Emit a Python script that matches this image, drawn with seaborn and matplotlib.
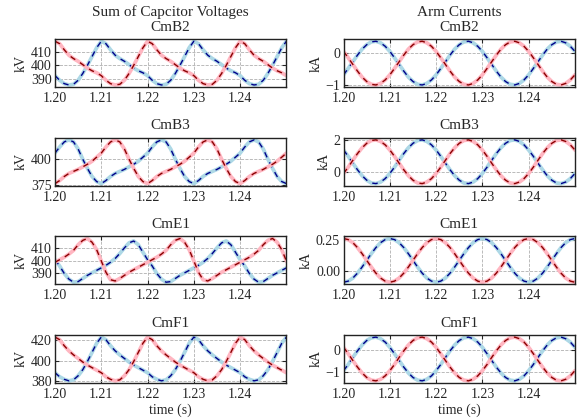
import numpy as np
import matplotlib
matplotlib.use("Agg")
import matplotlib.pyplot as plt
import seaborn as sns

# time axis (s), 1 ms sampling
t = np.round(np.linspace(1.20, 1.25, 51), 3)

# ---- Sum of capacitor voltages (kV) ----
vB2_blue = [392.4, 389.0, 386.5, 385.5, 386.0, 389.0, 394.0, 400.0, 406.5, 413.0,
            417.8, 416.0, 411.5, 407.5, 405.0, 403.0, 400.5, 398.0, 396.0, 394.5,
            392.4, 389.0, 386.5, 385.5, 386.0, 389.0, 394.0, 400.0, 406.5, 413.0,
            417.8, 416.0, 411.5, 407.5, 405.0, 403.0, 400.5, 398.0, 396.0, 394.5,
            392.4, 389.0, 386.5, 385.5, 386.0, 389.0, 394.0, 400.0, 406.5, 413.0,
            417.8]
vB2_red = [417.8, 416.0, 411.5, 407.5, 405.0, 403.0, 400.5, 398.0, 396.0, 394.5,
           392.4, 389.0, 386.5, 385.5, 386.0, 389.0, 394.0, 400.0, 406.5, 413.0,
           417.8, 416.0, 411.5, 407.5, 405.0, 403.0, 400.5, 398.0, 396.0, 394.5,
           392.4, 389.0, 386.5, 385.5, 386.0, 389.0, 394.0, 400.0, 406.5, 413.0,
           417.8, 416.0, 411.5, 407.5, 405.0, 403.0, 400.5, 398.0, 396.0, 394.5,
           392.4]

vB3_blue = [406.0, 412.0, 417.0, 419.0, 417.0, 410.0, 400.0, 391.0, 383.0, 378.0,
            376.0, 379.0, 383.0, 386.0, 388.0, 390.0, 392.5, 395.0, 398.0, 402.0,
            406.0, 412.0, 417.0, 419.0, 417.0, 410.0, 400.0, 391.0, 383.0, 378.0,
            376.0, 379.0, 383.0, 386.0, 388.0, 390.0, 392.5, 395.0, 398.0, 402.0,
            406.0, 412.0, 417.0, 419.0, 417.0, 410.0, 400.0, 391.0, 383.0, 378.0,
            376.0]
vB3_red = [376.0, 379.0, 383.0, 386.0, 388.0, 390.0, 392.5, 395.0, 398.0, 402.0,
           406.0, 412.0, 417.0, 419.0, 417.0, 410.0, 400.0, 391.0, 383.0, 378.0,
           376.0, 379.0, 383.0, 386.0, 388.0, 390.0, 392.5, 395.0, 398.0, 402.0,
           406.0, 412.0, 417.0, 419.0, 417.0, 410.0, 400.0, 391.0, 383.0, 378.0,
           376.0, 379.0, 383.0, 386.0, 388.0, 390.0, 392.5, 395.0, 398.0, 402.0,
           406.0]

vE1_blue = [401.0, 396.0, 390.0, 385.5, 383.0, 383.5, 386.0, 388.5, 390.5, 392.5,
            394.5, 396.5, 399.0, 402.0, 406.0, 410.5, 414.5, 416.0, 413.0, 407.0,
            401.0, 396.0, 390.0, 385.5, 383.0, 383.5, 386.0, 388.5, 390.5, 392.5,
            394.5, 396.5, 399.0, 402.0, 406.0, 410.5, 414.5, 416.0, 413.0, 407.0,
            401.0, 396.0, 390.0, 385.5, 383.0, 383.5, 386.0, 388.5, 390.5, 392.5,
            394.5]
vE1_red = [399.0, 401.0, 403.0, 405.5, 408.5, 413.0, 416.5, 418.0, 415.0, 409.0,
           400.0, 391.0, 385.0, 384.0, 386.0, 388.5, 391.0, 393.0, 395.0, 397.0,
           399.0, 401.0, 403.0, 405.5, 408.5, 413.0, 416.5, 418.0, 415.0, 409.0,
           400.0, 391.0, 385.0, 384.0, 386.0, 388.5, 391.0, 393.0, 395.0, 397.0,
           399.0, 401.0, 403.0, 405.5, 408.5, 413.0, 416.5, 418.0, 415.0, 409.0,
           400.0]

vF1_blue = [388.0, 384.0, 381.5, 380.0, 381.0, 385.0, 391.0, 399.0, 408.0, 417.0,
            423.0, 420.5, 414.5, 409.5, 405.5, 402.0, 398.5, 395.5, 393.0, 390.5,
            388.0, 384.0, 381.5, 380.0, 381.0, 385.0, 391.0, 399.0, 408.0, 417.0,
            423.0, 420.5, 414.5, 409.5, 405.5, 402.0, 398.5, 395.5, 393.0, 390.5,
            388.0, 384.0, 381.5, 380.0, 381.0, 385.0, 391.0, 399.0, 408.0, 417.0,
            423.0]
vF1_red = [423.0, 420.5, 414.5, 409.5, 405.5, 402.0, 398.5, 395.5, 393.0, 390.5,
           388.0, 384.0, 381.5, 380.0, 381.0, 385.0, 391.0, 399.0, 408.0, 417.0,
           423.0, 420.5, 414.5, 409.5, 405.5, 402.0, 398.5, 395.5, 393.0, 390.5,
           388.0, 384.0, 381.5, 380.0, 381.0, 385.0, 391.0, 399.0, 408.0, 417.0,
           423.0, 420.5, 414.5, 409.5, 405.5, 402.0, 398.5, 395.5, 393.0, 390.5,
           388.0]

# ---- Arm currents (kA) ----
iB2_blue = [-0.68, -0.48, -0.27, -0.06, 0.13, 0.27, 0.36, 0.38, 0.33, 0.22,
            0.06, -0.14, -0.35, -0.56, -0.75, -0.89, -0.98, -1.00, -0.95, -0.84,
            -0.68, -0.48, -0.27, -0.06, 0.13, 0.27, 0.36, 0.38, 0.33, 0.22,
            0.06, -0.14, -0.35, -0.56, -0.75, -0.89, -0.98, -1.00, -0.95, -0.84,
            -0.68, -0.48, -0.27, -0.06, 0.13, 0.27, 0.36, 0.38, 0.33, 0.22,
            0.06]
iB2_red = [0.06, -0.14, -0.35, -0.56, -0.75, -0.89, -0.98, -1.00, -0.95, -0.84,
           -0.68, -0.48, -0.27, -0.06, 0.13, 0.27, 0.36, 0.38, 0.33, 0.22,
           0.06, -0.14, -0.35, -0.56, -0.75, -0.89, -0.98, -1.00, -0.95, -0.84,
           -0.68, -0.48, -0.27, -0.06, 0.13, 0.27, 0.36, 0.38, 0.33, 0.22,
           0.06, -0.14, -0.35, -0.56, -0.75, -0.89, -0.98, -1.00, -0.95, -0.84,
           -0.68]

iB3_red = [-0.11, 0.29, 0.73, 1.16, 1.53, 1.82, 2.00, 2.04, 1.94, 1.72,
           1.39, 0.99, 0.55, 0.13, -0.25, -0.54, -0.72, -0.76, -0.66, -0.44,
           -0.11, 0.29, 0.73, 1.16, 1.53, 1.82, 2.00, 2.04, 1.94, 1.72,
           1.39, 0.99, 0.55, 0.13, -0.25, -0.54, -0.72, -0.76, -0.66, -0.44,
           -0.11, 0.29, 0.73, 1.16, 1.53, 1.82, 2.00, 2.04, 1.94, 1.72,
           1.39]
iB3_blue = [1.39, 0.99, 0.55, 0.13, -0.25, -0.54, -0.72, -0.76, -0.66, -0.44,
            -0.11, 0.29, 0.73, 1.16, 1.53, 1.82, 2.00, 2.04, 1.94, 1.72,
            1.39, 0.99, 0.55, 0.13, -0.25, -0.54, -0.72, -0.76, -0.66, -0.44,
            -0.11, 0.29, 0.73, 1.16, 1.53, 1.82, 2.00, 2.04, 1.94, 1.72,
            1.39, 0.99, 0.55, 0.13, -0.25, -0.54, -0.72, -0.76, -0.66, -0.44,
            -0.11]

iE1_red = [0.263, 0.254, 0.229, 0.189, 0.139, 0.084, 0.029, -0.021, -0.061, -0.086,
           -0.095, -0.086, -0.061, -0.021, 0.029, 0.084, 0.139, 0.189, 0.229, 0.254,
           0.263, 0.254, 0.229, 0.189, 0.139, 0.084, 0.029, -0.021, -0.061, -0.086,
           -0.095, -0.086, -0.061, -0.021, 0.029, 0.084, 0.139, 0.189, 0.229, 0.254,
           0.263, 0.254, 0.229, 0.189, 0.139, 0.084, 0.029, -0.021, -0.061, -0.086,
           -0.095]
iE1_blue = [-0.095, -0.086, -0.061, -0.021, 0.029, 0.084, 0.139, 0.189, 0.229, 0.254,
            0.263, 0.254, 0.229, 0.189, 0.139, 0.084, 0.029, -0.021, -0.061, -0.086,
            -0.095, -0.086, -0.061, -0.021, 0.029, 0.084, 0.139, 0.189, 0.229, 0.254,
            0.263, 0.254, 0.229, 0.189, 0.139, 0.084, 0.029, -0.021, -0.061, -0.086,
            -0.095, -0.086, -0.061, -0.021, 0.029, 0.084, 0.139, 0.189, 0.229, 0.254,
            0.263]

iF1_blue = [-0.92, -0.65, -0.34, -0.05, 0.21, 0.41, 0.53, 0.56, 0.49, 0.34,
            0.11, -0.17, -0.47, -0.76, -1.02, -1.22, -1.34, -1.37, -1.30, -1.15,
            -0.92, -0.65, -0.34, -0.05, 0.21, 0.41, 0.53, 0.56, 0.49, 0.34,
            0.11, -0.17, -0.47, -0.76, -1.02, -1.22, -1.34, -1.37, -1.30, -1.15,
            -0.92, -0.65, -0.34, -0.05, 0.21, 0.41, 0.53, 0.56, 0.49, 0.34,
            0.11]
iF1_red = [0.11, -0.17, -0.47, -0.76, -1.02, -1.22, -1.34, -1.37, -1.30, -1.15,
           -0.92, -0.65, -0.34, -0.05, 0.21, 0.41, 0.53, 0.56, 0.49, 0.34,
           0.11, -0.17, -0.47, -0.76, -1.02, -1.22, -1.34, -1.37, -1.30, -1.15,
           -0.92, -0.65, -0.34, -0.05, 0.21, 0.41, 0.53, 0.56, 0.49, 0.34,
           0.11, -0.17, -0.47, -0.76, -1.02, -1.22, -1.34, -1.37, -1.30, -1.15,
           -0.92]

names = ["CmB2", "CmB3", "CmE1", "CmF1"]
volt_blue = [vB2_blue, vB3_blue, vE1_blue, vF1_blue]
volt_red = [vB2_red, vB3_red, vE1_red, vF1_red]
curr_blue = [iB2_blue, iB3_blue, iE1_blue, iF1_blue]
curr_red = [iB2_red, iB3_red, iE1_red, iF1_red]
volt_ticks = [[390, 400, 410], [375, 400], [390, 400, 410], [380, 400, 420]]
curr_ticks = [[-1, 0], [0, 2], [0.0, 0.25], [-1, 0]]
x_ticks = [1.20, 1.21, 1.22, 1.23, 1.24]

sns.set_theme(style="ticks")
plt.rcParams["font.family"] = ["Liberation Serif", "DejaVu Serif"]
plt.rcParams["xtick.direction"] = "in"
plt.rcParams["ytick.direction"] = "in"
plt.rcParams["xtick.top"] = True
plt.rcParams["ytick.right"] = True
plt.rcParams["axes.edgecolor"] = "#222222"
plt.rcParams["axes.linewidth"] = 1.0

fig, axes = plt.subplots(4, 2, figsize=(5.79, 4.2), dpi=100)
fig.subplots_adjust(left=0.095, right=0.993, bottom=0.088, top=0.907,
                    hspace=1.05, wspace=0.247)


def draw(ax, blue, red):
    ax.grid(True, color="#b0b0b0", linestyle="--", linewidth=0.6)
    ax.set_axisbelow(True)
    sns.lineplot(x=t, y=blue, ax=ax, color="#add8e6", linewidth=2.7)
    sns.lineplot(x=t, y=blue, ax=ax, color="#00008b", linewidth=1.0,
                 linestyle=(0, (4, 4)))
    sns.lineplot(x=t, y=red, ax=ax, color="#ffb6c1", linewidth=2.7)
    sns.lineplot(x=t, y=red, ax=ax, color="#8b0000", linewidth=1.0,
                 linestyle=(0, (4, 4)))
    ax.set_xlim(1.20, 1.25)
    ax.set_xticks(x_ticks)
    ax.set_xticklabels([f"{v:.2f}" for v in x_ticks])
    ax.tick_params(axis="x", labelsize=10, length=3, width=0.8, pad=3.5)
    ax.tick_params(axis="y", labelsize=10, length=3, width=0.8, pad=2.5)


for i, name in enumerate(names):
    axv = axes[i, 0]
    axc = axes[i, 1]
    draw(axv, volt_blue[i], volt_red[i])
    draw(axc, curr_blue[i], curr_red[i])
    axv.set_yticks(volt_ticks[i])
    axc.set_yticks(curr_ticks[i])
    if i == 2:
        axc.set_yticklabels(["0.00", "0.25"])
    axv.set_ylabel("kV", fontsize=10, labelpad=2)
    axc.set_ylabel("kA", fontsize=10, labelpad=2)
    if i == 0:
        axv.set_title("Sum of Capcitor Voltages\n" + name, fontsize=11, pad=6)
        axc.set_title("Arm Currents\n" + name, fontsize=11, pad=6)
    else:
        axv.set_title(name, fontsize=11, pad=6)
        axc.set_title(name, fontsize=11, pad=6)
    if i == 3:
        axv.set_xlabel("time (s)", fontsize=10, labelpad=2)
        axc.set_xlabel("time (s)", fontsize=10, labelpad=2)

fig.savefig("out.png", dpi=100)
